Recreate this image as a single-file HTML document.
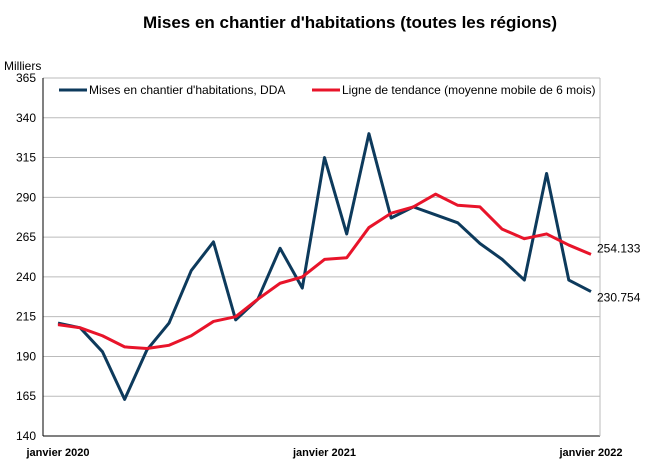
<!DOCTYPE html>
<html><head><meta charset="utf-8"><style>
body{margin:0;background:#fff;font-family:"Liberation Sans",sans-serif}
svg text{font-family:"Liberation Sans",sans-serif}
</style></head><body>
<svg id="chart" width="650" height="470">
<text x="350" y="28" text-anchor="middle" font-size="17" font-weight="bold" fill="#000">Mises en chantier d'habitations (toutes les régions)</text>
<text x="4" y="70" font-size="12" fill="#000">Milliers</text>
<g id="grid"></g><g id="series"></g>
</svg>
<script>
const categories=["janvier 2020","fév 2020","mars 2020","avr 2020","mai 2020","juin 2020","juil 2020","août 2020","sept 2020","oct 2020","nov 2020","déc 2020","janvier 2021","fév 2021","mars 2021","avr 2021","mai 2021","juin 2021","juil 2021","août 2021","sept 2021","oct 2021","nov 2021","déc 2021","janvier 2022"];
const ddaValues=[211,208,193,163,194,211,244,262,213,226,258,233,315,267,330,277,284,279,274,261,251,238,305,238,230.754];
const trendValues=[210,208,203,196,195,197,203,212,215,226,236,240,251,252,271,280,284,292,285,284,270,264,267,260,254.133];
const yTicks=[140,165,190,215,240,265,290,315,340,365];
const xLabelIdx=[0,12,24];
const NS="http://www.w3.org/2000/svg";
const L=43,R=600,T=78,B=436,x0=58,x1=591;
const xs=i=>x0+(x1-x0)*i/(categories.length-1);
const ys=v=>B-(v-140)/(365-140)*(B-T);
function mk(tag,attrs,parent){const e=document.createElementNS(NS,tag);for(const k in attrs)e.setAttribute(k,attrs[k]);parent.appendChild(e);return e;}
const g=document.getElementById('grid'),s=document.getElementById('series');
yTicks.forEach(v=>{
 const ln=mk('line',{x1:L,x2:R,y1:ys(v),y2:ys(v),stroke:v===140?'#000':'#bbb','stroke-width':1},g);
 
 
 const t=mk('text',{x:L-7,y:ys(v)+4,'text-anchor':'end','font-size':12},g);t.textContent=v;
 
 
});
const ax=mk('line',{x1:L,x2:L,y1:T,y2:B,stroke:'#000'},g);


const rb=mk('line',{x1:R,x2:R,y1:T,y2:B,stroke:'#bbb'},g);


xLabelIdx.forEach(i=>{
 const t=mk('text',{x:xs(i),y:456,'text-anchor':'middle','font-size':11,'font-weight':'bold'},g);t.textContent=categories[i];
 
 
});
function line(vals,color,name){
 const p=mk('polyline',{points:vals.map((v,i)=>xs(i)+','+ys(v)).join(' '),fill:'none',stroke:color,'stroke-width':3,'stroke-linejoin':'round'},s);
 
 
}
line(ddaValues,'#0d3a5c','dda-line');
line(trendValues,'#e8142a','trend-line');
const n=categories.length-1;
const l1=mk('text',{x:xs(n)+6,y:ys(trendValues[n])-2,'font-size':12},s);l1.textContent=trendValues[n].toFixed(3);


const l2=mk('text',{x:xs(n)+6,y:ys(ddaValues[n])+10,'font-size':12},s);l2.textContent=ddaValues[n].toFixed(3);


// legend
const lg=mk('g',{},s);


mk('line',{x1:59,x2:87,y1:90,y2:90,stroke:'#0d3a5c','stroke-width':3},lg);
const t1=mk('text',{x:89,y:94,'font-size':12},lg);t1.textContent="Mises en chantier d'habitations, DDA";


mk('line',{x1:312,x2:340,y1:90,y2:90,stroke:'#e8142a','stroke-width':3},lg);
const t2=mk('text',{x:342,y:94,'font-size':12},lg);t2.textContent="Ligne de tendance (moyenne mobile de 6 mois)";


</script>
</body></html>
